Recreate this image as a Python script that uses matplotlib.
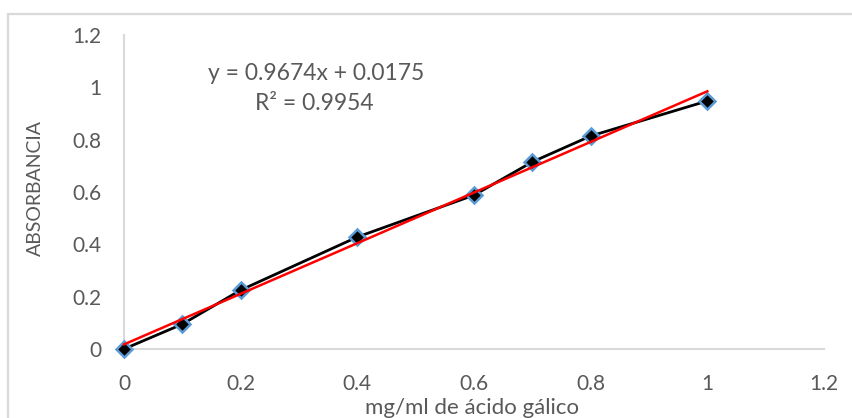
import numpy as np
import matplotlib
matplotlib.use('Agg')
import matplotlib.pyplot as plt
from matplotlib.patches import Rectangle

# calibration data
conc = [0, 0.1, 0.2, 0.4, 0.6, 0.7, 0.8, 1.0]
absorb = [0.0, 0.095, 0.225, 0.428, 0.588, 0.715, 0.814, 0.948]
slope = 0.9674
intercept = 0.0175
eq_text = "y = 0.9674x + 0.0175"
r2_text = "R² = 0.9954"
xticks = [0, 0.2, 0.4, 0.6, 0.8, 1, 1.2]
yticks = [0, 0.2, 0.4, 0.6, 0.8, 1, 1.2]

plt.rcParams['font.family'] = ['Lato', 'DejaVu Sans']
grey = '#595959'

W, H = 853, 418
fig = plt.figure(figsize=(W / 100, H / 100), dpi=100)
ax = fig.add_axes([124 / W, 1 - 349 / H, 700 / W, 314 / H])

# outer chart border
fig.patches.append(Rectangle((8 / W, -0.1), 1.2, 1 - 14 / H + 0.1, transform=fig.transFigure,
                             fill=False, edgecolor='#d9d9d9', lw=1.6))

ax.plot(conc, absorb, color='black', lw=2, marker='D', ms=8,
        mfc='black', mec='#5b9bd5', mew=1.8, zorder=3, clip_on=False)
xf = np.array([0, 1.0])
ax.plot(xf, slope * xf + intercept, color='#ff0000', lw=1.8, zorder=4, clip_on=False)

ax.set_xlim(0, 1.2)
ax.set_ylim(0, 1.2)
ax.set_xticks(xticks)
ax.set_yticks(yticks)
ax.set_xticklabels([f"{v:g}" for v in xticks])
ax.set_yticklabels([f"{v:g}" for v in yticks])
ax.tick_params(length=0, labelsize=15, labelcolor=grey)
ax.tick_params(axis='y', pad=16)
ax.tick_params(axis='x', pad=18)

for s in ['top', 'right']:
    ax.spines[s].set_visible(False)
ax.spines['left'].set_color('#d9d9d9')
ax.spines['bottom'].set_color('#d9d9d9')
ax.spines['left'].set_linewidth(1.5)
ax.spines['bottom'].set_linewidth(1.5)

fig.text(472 / W, 1 - 408 / H, "mg/ml de ácido gálico", fontsize=16, color=grey,
         ha='center', va='center')
fig.text(35 / W, 1 - 188 / H, "ABSORBANCIA", fontsize=14, color=grey,
         ha='center', va='center', rotation=90)

fig.text(316 / W, 1 - 73 / H, eq_text, fontsize=16.5, color=grey, ha='center', va='center')
fig.text(314 / W, 1 - 103 / H, r2_text, fontsize=16.5, color=grey, ha='center', va='center')

fig.savefig('out.png', dpi=100)
